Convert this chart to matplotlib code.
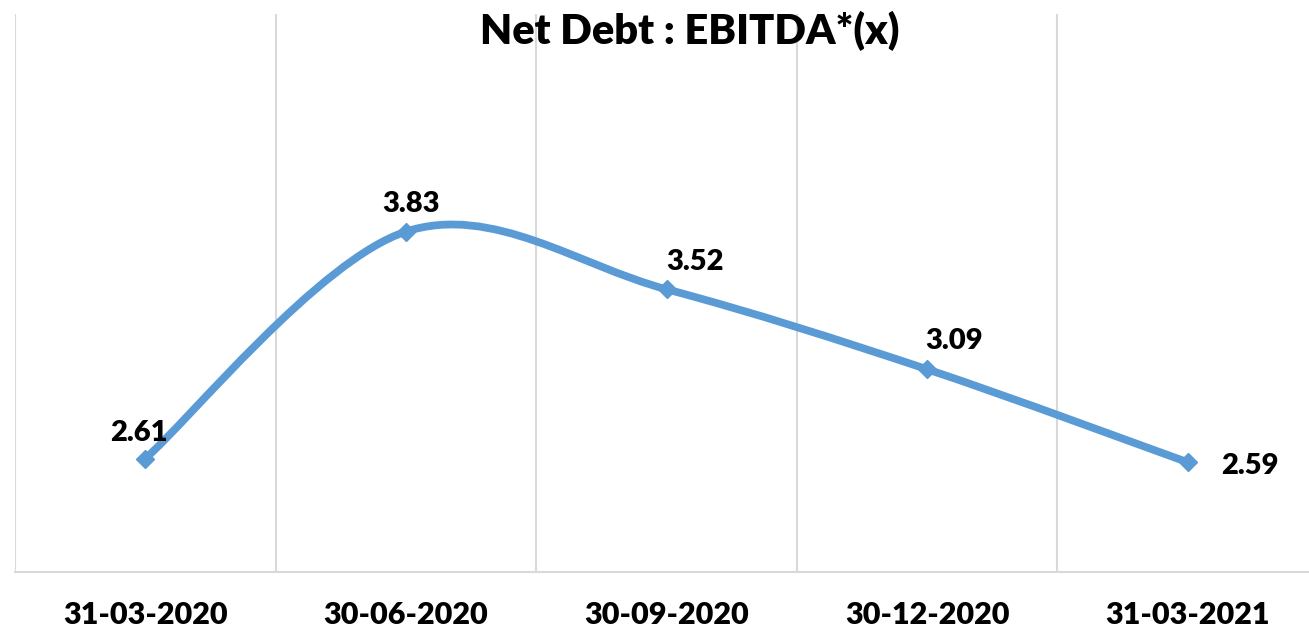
import matplotlib
matplotlib.use("Agg")
import matplotlib.pyplot as plt
from matplotlib.path import Path
from matplotlib.patches import PathPatch
import numpy as np

categories = ["31-03-2020", "30-06-2020", "30-09-2020", "30-12-2020", "31-03-2021"]
values = [2.61, 3.83, 3.52, 3.09, 2.59]
labels = ["2.61", "3.83", "3.52", "3.09", "2.59"]
# label offsets in pixels (dx, dy) relative to the point
label_offsets = [(-6, 26), (5, 28), (29, 27), (27, 28), (62, -4)]

LINE_COLOR = "#5B9BD5"
FONT = "Lato"

fig = plt.figure(figsize=(13.09, 6.30), dpi=100)
ax = fig.add_axes([15 / 1309, 1 - 572 / 630, 1303 / 1309, (572 - 14) / 630])

x = np.arange(len(values))
y = np.array(values, dtype=float)

# smoothed line like Excel (Catmull-Rom style cubic Bezier)
pts = np.column_stack([x, y])
verts = [pts[0]]
codes = [Path.MOVETO]
for i in range(len(pts) - 1):
    p0 = pts[i - 1] if i > 0 else pts[i]
    p1 = pts[i]
    p2 = pts[i + 1]
    p3 = pts[i + 2] if i + 2 < len(pts) else pts[i + 1]
    c1 = p1 + (p2 - p0) / 6
    c2 = p2 - (p3 - p1) / 6
    verts += [c1, c2, p2]
    codes += [Path.CURVE4] * 3
ax.add_patch(PathPatch(Path(verts, codes), facecolor="none", edgecolor=LINE_COLOR,
                       lw=5.6, capstyle="butt", zorder=3))
ax.plot(x, y, linestyle="none", marker="D", markersize=9.5, color=LINE_COLOR, zorder=4)

for xi, yi, lab, (dx, dy) in zip(x, y, labels, label_offsets):
    ax.annotate(lab, (xi, yi), xytext=(dx * 0.72, dy * 0.72), textcoords="offset points",
                ha="center", va="center", fontsize=21, fontweight="heavy",
                family=FONT, color="black", zorder=5)

ax.set_xlim(-0.5, len(values) - 0.5)
ax.set_ylim(2, 5)

for b in np.arange(-0.5, len(values), 1.0):
    ax.axvline(b, color="#D9D9D9", lw=1.5, zorder=1)

for s in ["top", "right", "left"]:
    ax.spines[s].set_visible(False)
ax.spines["bottom"].set_color("#D9D9D9")
ax.spines["bottom"].set_linewidth(1.5)
ax.set_yticks([])
ax.set_xticks(x)
ax.set_xticklabels(categories, fontsize=22, fontweight="heavy", family=FONT)
ax.tick_params(axis="x", length=0, pad=21)

fig.text(690 / 1309, 1 - 31 / 630, "Net Debt : EBITDA*(x)", ha="center", va="center",
         fontsize=30, fontweight="heavy", family=FONT)

fig.savefig("out.png", dpi=100, facecolor="white")
